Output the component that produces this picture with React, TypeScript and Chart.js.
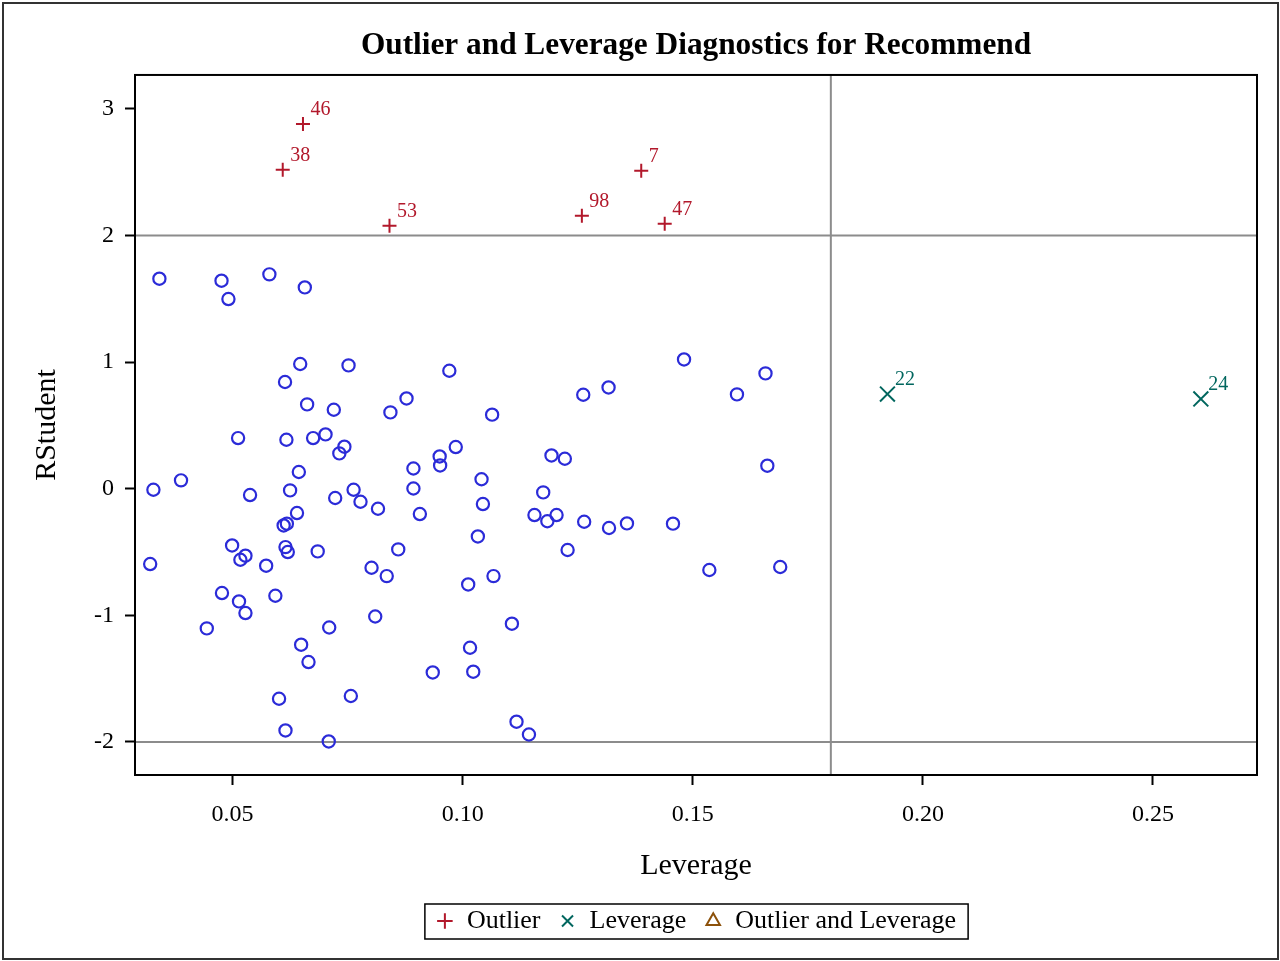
import React, { useEffect, useRef } from 'react';
import { Chart, registerables } from 'chart.js';

Chart.register(...registerables);

// ---------- data ----------
const obsLeverage = [
  0.0341, 0.0476, 0.0491, 0.0580, 0.0657, 0.0647, 0.0614, 0.0752, 0.0971, 0.0662,
  0.0720, 0.0843, 0.0878, 0.0512, 0.0617, 0.0675, 0.0702, 0.0743, 0.0732, 0.0644,
  0.0328, 0.0388, 0.0538, 0.0625, 0.0640, 0.0611, 0.0618, 0.0723, 0.0763, 0.0778,
  0.0816, 0.0893, 0.0893, 0.0907, 0.0950, 0.0951, 0.0985, 0.1064, 0.1041, 0.1044,
  0.1033, 0.1067, 0.1012, 0.1193, 0.1222, 0.1175, 0.1156, 0.1184, 0.1204, 0.1264,
  0.1228, 0.1318, 0.1357, 0.1262, 0.1317, 0.1481, 0.1457, 0.1536, 0.1596, 0.1658,
  0.1662, 0.1690, 0.0499, 0.0321, 0.0517, 0.0528, 0.0615, 0.0620, 0.0573, 0.0685,
  0.0477, 0.0514, 0.0528, 0.0593, 0.0444, 0.0710, 0.0802, 0.0835, 0.0860, 0.0810,
  0.0649, 0.0665, 0.0601, 0.0615, 0.0757, 0.0709, 0.0935, 0.1023, 0.1016, 0.1107,
  0.1117, 0.1144,
];
const obsRStudent = [
  1.659, 1.643, 1.498, 1.693, 1.590, 0.985, 0.843, 0.974, 0.932, 0.666,
  0.624, 0.603, 0.713, 0.400, 0.387, 0.400, 0.429, 0.332, 0.279, 0.132,
  -0.008, 0.066, -0.050, -0.013, -0.192, -0.290, -0.276, -0.073, -0.008, -0.103,
  -0.158, 0.160, 0.002, -0.200, 0.255, 0.184, 0.329, 0.585, 0.075, -0.121,
  -0.377, -0.690, -0.756, 0.263, 0.237, -0.029, -0.208, -0.257, -0.208, -0.261,
  -0.484, -0.310, -0.274, 0.742, 0.800, 1.021, -0.276, -0.642, 0.745, 0.911,
  0.182, -0.618, -0.448, -0.595, -0.561, -0.529, -0.461, -0.500, -0.608, -0.495,
  -0.824, -0.890, -0.982, -0.845, -1.103, -1.096, -0.624, -0.690, -0.479, -1.009,
  -1.232, -1.369, -1.659, -1.909, -1.637, -1.996, -1.451, -1.445, -1.256, -1.066,
  -1.840, -1.941,
];

const outlierLeverage = [0.0653, 0.0609, 0.0841, 0.1388, 0.1259, 0.1439];
const outlierRStudent = [2.881, 2.520, 2.077, 2.512, 2.156, 2.093];
const outlierIds = ['46', '38', '53', '7', '98', '47'];

const leverageLeverage = [0.1923, 0.2604];
const leverageRStudent = [0.748, 0.709];
const leverageIds = ['22', '24'];

const xTicks = [0.05, 0.10, 0.15, 0.20, 0.25];
const xTickLabels = ['0.05', '0.10', '0.15', '0.20', '0.25'];
const yTicks = [-2, -1, 0, 1, 2, 3];
const yTickLabels = ['-2', '-1', '0', '1', '2', '3'];
const xRange = [0.0288, 0.2726];
const yRange = [-2.261, 3.268];
const refX = [0.18];
const refY = [2, -2];

const titleText = 'Outlier and Leverage Diagnostics for Recommend';
const xTitle = 'Leverage';
const yTitle = 'RStudent';
const seriesNames = ['Observations', 'Outlier', 'Leverage', 'Outlier and Leverage'];

// ---------- styles ----------
const SERIF = '"Liberation Serif", "Times New Roman", serif';
const BLUE = '#2B2BD8';
const RED = '#B2182B';
const TEAL = '#01665E';
const BROWN = '#8C510A';

const decorPlugin = {
  id: 'decor',
  beforeDatasetsDraw(chart: any) {
    const { ctx, chartArea: a, scales } = chart;
    const x = scales.x;
    const y = scales.y;
    ctx.save();
    ctx.strokeStyle = '#8c8c8c';
    ctx.lineWidth = 2;
    ctx.beginPath();
    refX.forEach((v) => {
      const px = x.getPixelForValue(v);
      ctx.moveTo(px, a.top);
      ctx.lineTo(px, a.bottom);
    });
    refY.forEach((v) => {
      const py = y.getPixelForValue(v);
      ctx.moveTo(a.left, py);
      ctx.lineTo(a.right, py);
    });
    ctx.stroke();
    ctx.restore();
  },
  afterDatasetsDraw(chart: any) {
    const { ctx } = chart;
    ctx.save();
    ctx.font = `20px ${SERIF}`;
    ctx.textAlign = 'left';
    ctx.textBaseline = 'alphabetic';
    chart.data.datasets.forEach((ds: any, i: number) => {
      const ids = ds.ids;
      if (!ids) return;
      const meta = chart.getDatasetMeta(i);
      ctx.fillStyle = ds.borderColor;
      meta.data.forEach((el: any, j: number) => {
        ctx.fillText(ids[j], el.x + 7.5, el.y - 9);
      });
    });
    ctx.restore();
  },
  afterDraw(chart: any) {
    const { ctx, chartArea: a } = chart;
    ctx.save();
    // plot frame
    ctx.strokeStyle = '#000';
    ctx.lineWidth = 2;
    ctx.strokeRect(a.left, a.top, a.right - a.left, a.bottom - a.top);
    // legend border
    const lg = chart.legend;
    if (lg && lg.legendHitBoxes && lg.legendHitBoxes.length) {
      const hb = lg.legendHitBoxes;
      const first = hb[0];
      const last = hb[hb.length - 1];
      const left = first.left - 11;
      const right = last.left + last.width + 12;
      const cy = first.top + first.height / 2;
      ctx.lineWidth = 1.5;
      ctx.strokeStyle = '#000';
      ctx.strokeRect(left, cy - 17, right - left, 35);
    }
    // outer border
    ctx.strokeStyle = '#333';
    ctx.lineWidth = 2;
    ctx.strokeRect(3, 3, 1275, 956);
    ctx.restore();
  },
};

export default function App() {
  const canvasRef = useRef<HTMLCanvasElement | null>(null);

  useEffect(() => {
    const canvas = canvasRef.current;
    if (!canvas) return;

    const obs = obsLeverage.map((v, i) => ({ x: v, y: obsRStudent[i] }));
    const outl = outlierLeverage.map((v, i) => ({ x: v, y: outlierRStudent[i] }));
    const lev = leverageLeverage.map((v, i) => ({ x: v, y: leverageRStudent[i] }));

    const chart = new Chart(canvas, {
      type: 'scatter',
      data: {
        datasets: [
          {
            label: seriesNames[0],
            data: obs,
            pointStyle: 'circle',
            pointRadius: 6.1,
            pointBorderWidth: 2.2,
            borderColor: BLUE,
            backgroundColor: 'rgba(0,0,0,0)',
          },
          {
            label: seriesNames[1],
            data: outl,
            ids: outlierIds,
            pointStyle: 'cross',
            pointRadius: 7,
            pointBorderWidth: 2,
            borderWidth: 2,
            borderColor: RED,
            backgroundColor: 'rgba(0,0,0,0)',
          } as any,
          {
            label: seriesNames[2],
            data: lev,
            ids: leverageIds,
            pointStyle: 'crossRot',
            pointRadius: 10.5,
            pointBorderWidth: 2,
            borderWidth: 2,
            borderColor: TEAL,
            backgroundColor: 'rgba(0,0,0,0)',
          } as any,
          {
            label: seriesNames[3],
            data: [],
            pointStyle: 'triangle',
            pointRadius: 7,
            pointBorderWidth: 2,
            borderWidth: 2,
            borderColor: BROWN,
            backgroundColor: 'rgba(0,0,0,0)',
          },
        ],
      },
      options: {
        responsive: false,
        devicePixelRatio: 1,
        animation: false,
        events: [],
        layout: { padding: { left: 0, right: 23, top: 0, bottom: 17 } },
        scales: {
          x: {
            type: 'linear',
            position: 'bottom',
            min: xRange[0],
            max: xRange[1],
            afterBuildTicks: (s: any) => {
              s.ticks = xTicks.map((v) => ({ value: v }));
            },
            afterFit: (s: any) => {
              s.height = 115;
            },
            grid: {
              display: true,
              drawOnChartArea: false,
              drawTicks: true,
              tickLength: 10,
              tickColor: '#000',
              tickWidth: 2,
            },
            border: { display: false },
            ticks: {
              autoSkip: false,
              maxRotation: 0,
              padding: 15,
              color: '#000',
              font: { family: SERIF, size: 24 },
              callback: (v: any) => {
                const k = xTicks.indexOf(Number(v));
                return k >= 0 ? xTickLabels[k] : '';
              },
            },
            title: {
              display: true,
              text: xTitle,
              color: '#000',
              font: { family: SERIF, size: 30 },
              padding: { top: 0, bottom: 6 },
            },
          },
          y: {
            type: 'linear',
            position: 'left',
            min: yRange[0],
            max: yRange[1],
            afterBuildTicks: (s: any) => {
              s.ticks = yTicks.map((v) => ({ value: v }));
            },
            afterFit: (s: any) => {
              s.width = 135;
            },
            grid: {
              display: true,
              drawOnChartArea: false,
              drawTicks: true,
              tickLength: 10,
              tickColor: '#000',
              tickWidth: 2,
            },
            border: { display: false },
            ticks: {
              autoSkip: false,
              padding: 11,
              color: '#000',
              font: { family: SERIF, size: 24 },
              callback: (v: any) => {
                const k = yTicks.indexOf(Number(v));
                return k >= 0 ? yTickLabels[k] : '';
              },
            },
            title: {
              display: true,
              text: yTitle,
              color: '#000',
              font: { family: SERIF, size: 30 },
              padding: { top: 29, bottom: 0 },
            },
          },
        },
        plugins: {
          title: {
            display: true,
            text: titleText,
            fullSize: false,
            color: '#000',
            font: { family: SERIF, size: 31.3, weight: 'bold' },
            padding: { top: 27, bottom: 10.4 },
          },
          legend: {
            display: true,
            position: 'bottom',
            fullSize: false,
            labels: {
              usePointStyle: true,
              boxWidth: 18,
              boxHeight: 11,
              padding: 18,
              color: '#000',
              font: { family: SERIF, size: 26 },
              filter: (item: any) => item.datasetIndex !== 0,
            },
          },
          tooltip: { enabled: false },
        },
      } as any,
      plugins: [decorPlugin],
    });

    return () => {
      chart.destroy();
    };
  }, []);

  return (
    <div style={{ position: 'absolute', left: 0, top: 0, width: 1280, height: 961, background: '#fff' }}>
      <canvas ref={canvasRef} width={1280} height={961} style={{ width: 1280, height: 961, display: 'block' }} />
    </div>
  );
}
